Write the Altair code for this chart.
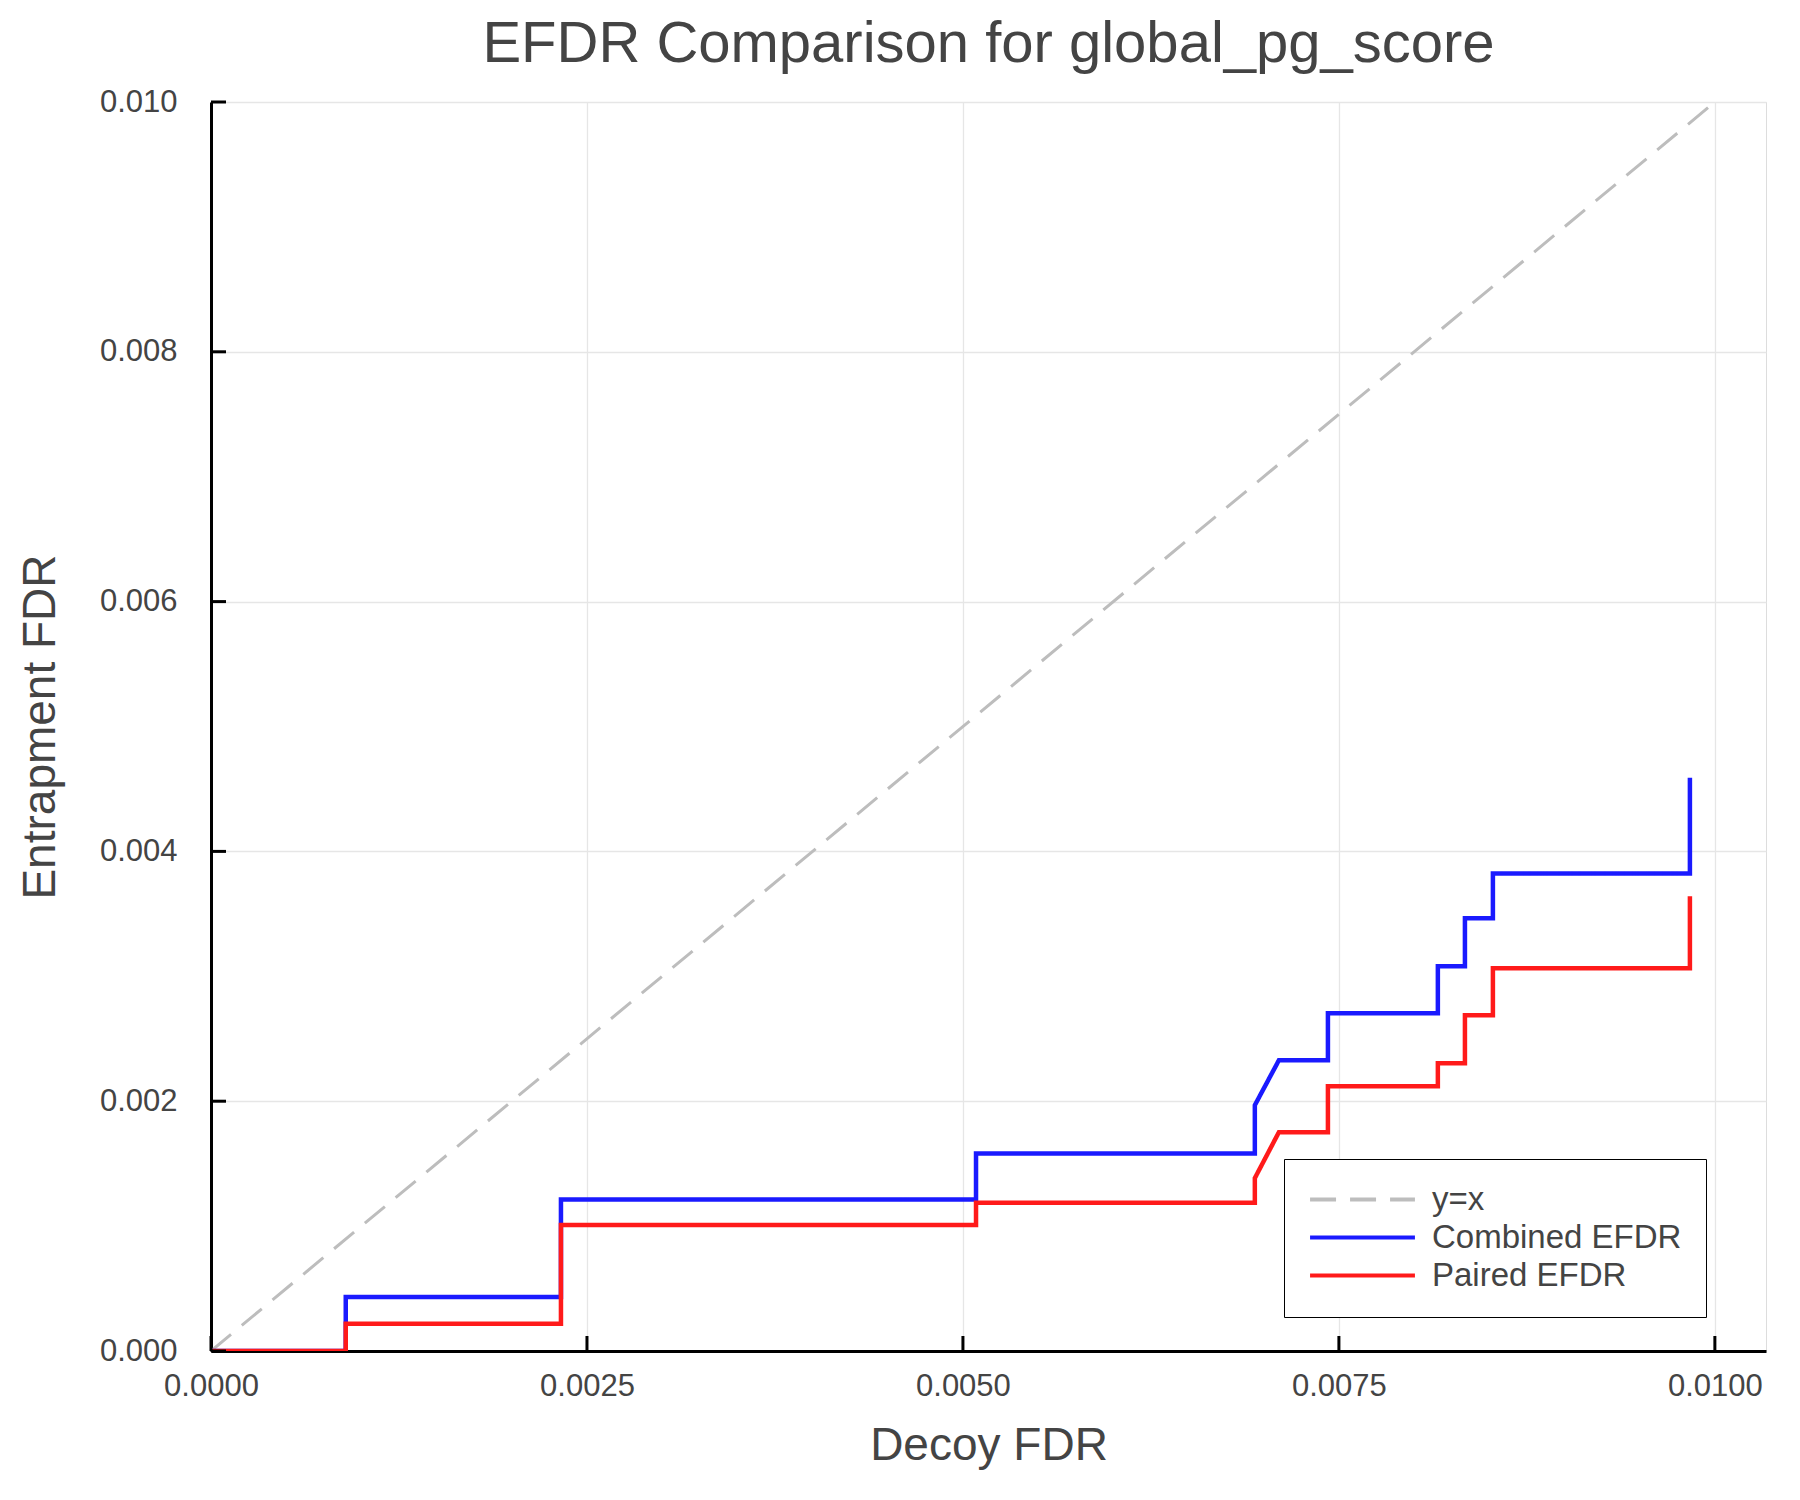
import altair as alt
import pandas as pd

# points (decoy FDR on x, entrapment FDR on y)
combined_x = [0.0, 0.000896, 0.000896, 0.002327, 0.002327, 0.005087, 0.005087,
              0.006941, 0.006941, 0.007101, 0.007427, 0.007427, 0.008158, 0.008158,
              0.008338, 0.008338, 0.008524, 0.008524, 0.009834, 0.009834]
combined_y = [0.0, 0.0, 0.000432, 0.000432, 0.001213, 0.001213, 0.001581,
              0.001581, 0.001968, 0.002328, 0.002328, 0.002704, 0.002704, 0.00308,
              0.00308, 0.003464, 0.003464, 0.003824, 0.003824, 0.00459]
paired_x = [0.0, 0.000896, 0.000896, 0.002327, 0.002327, 0.005087, 0.005087,
            0.006941, 0.006941, 0.007101, 0.007427, 0.007427, 0.008158, 0.008158,
            0.008338, 0.008338, 0.008524, 0.008524, 0.009834, 0.009834]
paired_y = [0.0, 0.0, 0.000218, 0.000218, 0.001008, 0.001008, 0.001187,
            0.001187, 0.001384, 0.001752, 0.001752, 0.00212, 0.00212, 0.002304,
            0.002304, 0.002688, 0.002688, 0.003064, 0.003064, 0.00364]
diag_x = [0.0, 0.01]
diag_y = [0.0, 0.01]

x_ticks = [0.0, 0.0025, 0.005, 0.0075, 0.01]
y_ticks = [0.0, 0.002, 0.004, 0.006, 0.008, 0.010]

series = ["y=x", "Combined EFDR", "Paired EFDR"]
series_colors = ["#bdbdbd", "#1a1aff", "#ff1a1a"]
series_dash = [[26, 14], [1, 0], [1, 0]]

FONT = "Liberation Sans"
TEXT = "#444444"
W, H = 1555, 1249


def frame(xs, ys, name):
    return pd.DataFrame({"decoy": xs, "entrap": ys, "series": name, "step": list(range(len(xs)))})


x_scale = alt.Scale(domain=[0, 0.01034], nice=False, zero=False)
y_scale = alt.Scale(domain=[0, 0.010], nice=False)

x_axis = alt.Axis(values=x_ticks, format=".4f", title="Decoy FDR", ticks=False,
                  grid=True, gridColor="#e6e6e6", gridWidth=1.3,
                  domainColor="black", domainWidth=3,
                  labelFont=FONT, labelFontSize=31, labelColor=TEXT, labelPadding=20,
                  labelFlush=False,
                  titleFont=FONT, titleFontSize=46, titleFontWeight="normal",
                  titleColor=TEXT, titlePadding=22)
y_axis = alt.Axis(values=y_ticks, format=".3f", title="Entrapment FDR", ticks=False,
                  grid=True, gridColor="#e6e6e6", gridWidth=1.3,
                  domainColor="black", domainWidth=3,
                  labelFont=FONT, labelFontSize=31, labelColor=TEXT, labelPadding=34,
                  labelFlush=False,
                  titleFont=FONT, titleFontSize=46, titleFontWeight="normal",
                  titleColor=TEXT, titlePadding=35)

legend = alt.Legend(title=None, orient="none", legendX=1073, legendY=1057,
                    symbolType="stroke", symbolSize=11000, symbolStrokeWidth=4,
                    clipHeight=33, labelLimit=500,
                    labelFont=FONT, labelFontSize=33, labelColor=TEXT, labelOffset=15,
                    rowPadding=4, padding=24, strokeColor="black", fillColor="white",
                    cornerRadius=0)

color = alt.Color("series:N", scale=alt.Scale(domain=series, range=series_colors), legend=legend)
dash = alt.StrokeDash("series:N", scale=alt.Scale(domain=series, range=series_dash), legend=legend)


def line(df, width):
    return alt.Chart(df).mark_line(strokeWidth=width, clip=True).encode(
        x=alt.X("decoy:Q", scale=x_scale, axis=x_axis),
        y=alt.Y("entrap:Q", scale=y_scale, axis=y_axis),
        color=color,
        strokeDash=dash,
        order="step:Q",
    )


diag = line(frame(diag_x, diag_y, "y=x"), 3)
combined = line(frame(combined_x, combined_y, "Combined EFDR"), 4.5)
paired = line(frame(paired_x, paired_y, "Paired EFDR"), 4.5)

# inward tick marks
y_tick_marks = alt.Chart(pd.DataFrame({"entrap": y_ticks})).mark_rule(
    color="black", strokeWidth=3
).encode(y=alt.Y("entrap:Q", scale=y_scale, axis=y_axis), x=alt.value(0), x2=alt.value(15))
x_tick_marks = alt.Chart(pd.DataFrame({"decoy": x_ticks})).mark_rule(
    color="black", strokeWidth=3
).encode(x=alt.X("decoy:Q", scale=x_scale, axis=x_axis), y=alt.value(H), y2=alt.value(H - 15))

chart = (
    alt.layer(diag, combined, paired, y_tick_marks, x_tick_marks)
    .properties(
        width=W,
        height=H,
        title=alt.Title("EFDR Comparison for global_pg_score", font=FONT, fontSize=58,
                        fontWeight="normal", color=TEXT, anchor="middle", offset=12),
        autosize=alt.AutoSizeParams(type="none"),
        padding={"left": 203, "top": 94, "right": 26, "bottom": 141},
    )
    .configure_view(stroke="transparent")
    .configure_legend(strokeWidth=3.5)
    .configure(background="white")
)

chart.save("out.html", embed_options={"renderer": "svg", "actions": False})
